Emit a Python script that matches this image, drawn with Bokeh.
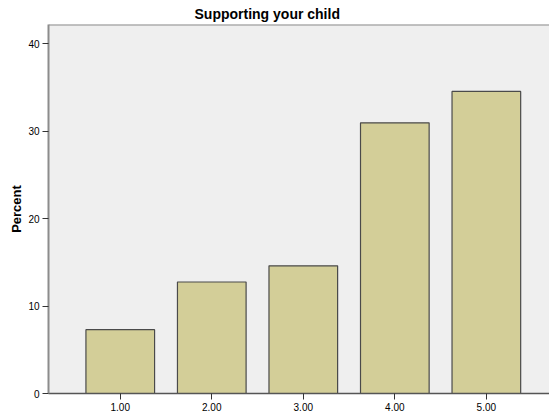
from bokeh.plotting import figure
from bokeh.models import Range1d, FixedTicker, Span, ColumnDataSource
from bokeh.embed import file_html
from bokeh.resources import INLINE

categories = ["1.00", "2.00", "3.00", "4.00", "5.00"]
percent = [7.3, 12.75, 14.6, 30.95, 34.55]
y_ticks = [0, 10, 20, 30, 40]

positions = list(range(1, len(categories) + 1))
src = ColumnDataSource(dict(x=positions, top=percent, label=categories))

FONT = "Liberation Sans"

p = figure(width=549, height=416, output_backend="svg", toolbar_location=None,
           x_range=Range1d(0.216, 5.69), y_range=Range1d(0, 42.2),
           min_border_left=48, min_border_right=0, min_border_top=24, min_border_bottom=23,
           title="Supporting your child")

p.background_fill_color = "#EFEFEF"
p.border_fill_color = "white"
p.outline_line_color = None
p.xgrid.visible = False
p.ygrid.visible = False

p.title.text_font = FONT
p.title.text_font_size = "14px"
p.title.text_font_style = "bold"
p.title.text_color = "black"
p.title.align = "left"
p.title.offset = 146
p.title.standoff = 5
p.title.text_line_height = 1.0

p.vbar(x="x", top="top", bottom=0, width=0.75, source=src,
       fill_color="#D3CE98", line_color="#4a4a4a", line_width=1.2)

# top frame line
p.add_layout(Span(location=p.y_range.end, dimension="width",
                  line_color="#8c8c8c", line_width=2))

xa = p.xaxis[0]
xa.ticker = FixedTicker(ticks=positions)
xa.major_label_overrides = {pos: lab for pos, lab in zip(positions, categories)}
xa.major_tick_out = 6
xa.major_tick_in = 0
xa.minor_tick_out = 0
xa.minor_tick_in = 0
xa.axis_line_color = "#555555"
xa.axis_line_width = 1.5
xa.major_tick_line_color = "#333333"
xa.major_label_text_font = FONT
xa.major_label_text_font_size = "10px"
xa.major_label_text_color = "black"
xa.major_label_standoff = 3

ya = p.yaxis[0]
ya.ticker = FixedTicker(ticks=y_ticks)
ya.major_tick_out = 6
ya.major_tick_in = 0
ya.minor_tick_out = 0
ya.minor_tick_in = 0
ya.axis_line_color = "#8c8c8c"
ya.axis_line_width = 2
ya.major_tick_line_color = "#333333"
ya.major_label_text_font = FONT
ya.major_label_text_font_size = "10px"
ya.major_label_text_color = "black"
ya.major_label_standoff = 3
ya.axis_label = "Percent"
ya.axis_label_text_font = FONT
ya.axis_label_text_font_size = "13px"
ya.axis_label_text_font_style = "bold"
ya.axis_label_text_color = "black"
ya.axis_label_standoff = 1

open("out.html", "w").write(file_html(p, INLINE))
